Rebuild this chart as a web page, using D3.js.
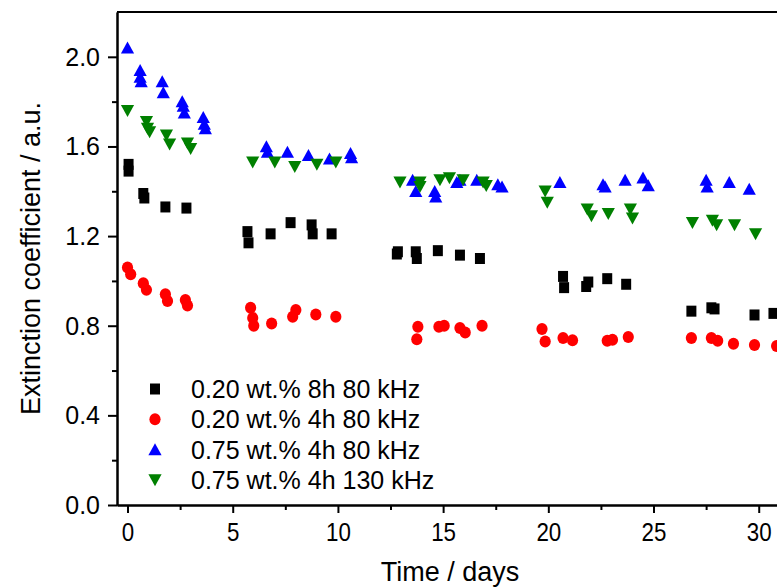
<!DOCTYPE html>
<html>
<head>
<meta charset="utf-8">
<script src="https://cdn.jsdelivr.net/npm/d3@7"></script>
<style>
  body { margin: 0; background: #fff; }
  svg { display: block; font-family: "Liberation Sans", Arial, sans-serif; }
</style>
</head>
<body>
<div id="chart"></div>
<script>
// series (day, extinction coefficient)
const seriesNames = ['0.20 wt.% 8h 80 kHz', '0.20 wt.% 4h 80 kHz', '0.75 wt.% 4h 80 kHz', '0.75 wt.% 4h 130 kHz'];
const seriesColors = ['#000000', '#ff0000', '#0000ff', '#008000'];
const seriesShapes = ['square', 'circle', 'triangleUp', 'triangleDown'];

const blackDays = [0.05, 0.05, 0.75, 0.8, 1.8, 2.8, 5.7, 5.75, 6.8, 7.75, 8.75, 8.8, 9.7, 12.8, 12.85, 13.7, 13.75, 14.75, 15.8, 16.75, 20.7, 20.75, 21.8, 21.9, 22.8, 23.7, 26.8, 27.75, 27.9, 29.8, 30.7];
const blackValues = [1.52, 1.49, 1.39, 1.37, 1.33, 1.325, 1.22, 1.17, 1.21, 1.26, 1.25, 1.21, 1.21, 1.12, 1.13, 1.13, 1.10, 1.135, 1.115, 1.10, 1.02, 0.97, 0.975, 0.995, 1.01, 0.985, 0.865, 0.88, 0.875, 0.848, 0.855];

const redDays = [0, 0.15, 0.75, 0.9, 1.8, 1.9, 2.75, 2.85, 5.85, 5.95, 6.0, 6.85, 7.85, 8.0, 8.95, 9.9, 13.75, 13.8, 14.8, 15.05, 15.8, 16.05, 16.85, 19.7, 19.85, 20.7, 21.15, 22.8, 23.05, 23.8, 26.8, 27.75, 28.05, 28.8, 29.8, 30.85];
const redValues = [1.06, 1.03, 0.99, 0.96, 0.94, 0.91, 0.915, 0.89, 0.88, 0.835, 0.80, 0.81, 0.84, 0.87, 0.85, 0.84, 0.74, 0.795, 0.795, 0.80, 0.79, 0.77, 0.80, 0.785, 0.73, 0.745, 0.735, 0.733, 0.737, 0.75, 0.745, 0.745, 0.733, 0.72, 0.714, 0.71];

const blueDays = [0, 0.6, 0.6, 0.65, 1.65, 1.7, 2.6, 2.65, 2.7, 3.6, 3.65, 3.7, 6.6, 6.65, 7.6, 8.6, 9.6, 10.6, 10.65, 13.55, 13.7, 14.6, 14.65, 15.65, 15.8, 16.6, 17.6, 17.8, 20.55, 22.6, 22.7, 23.65, 24.5, 24.75, 27.5, 27.55, 28.6, 29.55];
const blueValues = [2.04, 1.94, 1.91, 1.89, 1.89, 1.84, 1.80, 1.78, 1.75, 1.73, 1.70, 1.68, 1.60, 1.575, 1.575, 1.56, 1.545, 1.57, 1.55, 1.45, 1.40, 1.40, 1.375, 1.44, 1.45, 1.45, 1.43, 1.42, 1.44, 1.43, 1.42, 1.45, 1.46, 1.425, 1.45, 1.42, 1.44, 1.41];

const greenDays = [0, 0.9, 0.95, 1.05, 1.85, 2.0, 2.85, 3.0, 5.95, 7.0, 7.95, 9.0, 9.9, 12.95, 13.9, 13.9, 14.85, 15.3, 15.95, 16.9, 17.05, 19.85, 19.95, 21.85, 22.05, 22.85, 23.9, 24.0, 26.85, 27.8, 28.0, 28.85, 29.85];
const greenValues = [1.76, 1.71, 1.68, 1.665, 1.65, 1.61, 1.615, 1.59, 1.53, 1.53, 1.51, 1.52, 1.53, 1.44, 1.44, 1.42, 1.45, 1.46, 1.45, 1.44, 1.425, 1.40, 1.35, 1.32, 1.29, 1.30, 1.32, 1.28, 1.26, 1.27, 1.25, 1.25, 1.21];

const xMajorTicks = [0, 5, 10, 15, 20, 25, 30];
const xMinorTicks = [2.5, 7.5, 12.5, 17.5, 22.5, 27.5, 32.5];
const yMajorTicks = [0.0, 0.4, 0.8, 1.2, 1.6, 2.0];
const yMinorTicks = [0.2, 0.6, 1.0, 1.4, 1.8];

const allDays = [blackDays, redDays, blueDays, greenDays];
const allValues = [blackValues, redValues, blueValues, greenValues];

const w = 777;
const h = 587;
const margin = { left: 117, top: 12, bottom: 505 };

const svg = d3.select('#chart')
  .append('svg')
  .attr('width', w)
  .attr('height', h);

// chart is cut off on the right, so the x range runs past the svg edge
const xScale = d3.scaleLinear().domain([-0.5, 32]).range([margin.left, margin.left + 32.5 * 21.04]);
const yScale = d3.scaleLinear().domain([0, 2.2]).range([margin.bottom, margin.top]);

// marker shapes
function shapePath(kind) {
  if (kind === 'square') return 'M-5,-5.5H5V5.5H-5Z';
  if (kind === 'circle') return 'M-5.6,0A5.6,6 0 1,0 5.6,0A5.6,6 0 1,0 -5.6,0Z';
  if (kind === 'triangleUp') return 'M0,-6.3L6.6,5.7L-6.6,5.7Z';
  return 'M0,6.3L6.6,-5.7L-6.6,-5.7Z';
}

// points
allDays.forEach((days, i) => {
  const pts = days.map((d, j) => ({ day: d, value: allValues[i][j] }));
  svg.append('g')
    .selectAll('path')
    .data(pts)
    .enter()
    .append('path')
    .attr('d', shapePath(seriesShapes[i]))
    .attr('transform', d => 'translate(' + xScale(d.day) + ',' + yScale(d.value) + ')')
    .attr('fill', seriesColors[i]);
});

// axes
const xAxis = d3.axisBottom(xScale).tickValues(xMajorTicks).tickSize(8).tickSizeOuter(0).tickFormat(d3.format('d'));
const xMinor = d3.axisBottom(xScale).tickValues(xMinorTicks).tickSize(5).tickSizeOuter(0).tickFormat('');
const yAxis = d3.axisLeft(yScale).tickValues(yMajorTicks).tickSize(9).tickPadding(8).tickSizeOuter(0).tickFormat(d3.format('.1f'));
const yMinor = d3.axisLeft(yScale).tickValues(yMinorTicks).tickSize(5).tickSizeOuter(0).tickFormat('');

const gx = svg.append('g').attr('transform', 'translate(0,' + margin.bottom + ')').call(xAxis);
svg.append('g').attr('transform', 'translate(0,' + margin.bottom + ')').call(xMinor);
gx.selectAll('text')
  .attr('y', 36)
  .attr('dy', 0)
  .attr('font-size', 26)
  .attr('transform', 'scale(0.86,1)')
  .attr('fill', '#000');

const gy = svg.append('g').attr('transform', 'translate(' + margin.left + ',0)').call(yAxis);
svg.append('g').attr('transform', 'translate(' + margin.left + ',0)').call(yMinor);
gy.selectAll('text')
  .attr('font-size', 25)
  .attr('dy', '0.34em')
  .attr('fill', '#000');

svg.selectAll('.domain, .tick line')
  .attr('stroke', '#000')
  .attr('stroke-width', 2);

// top frame line
svg.append('line')
  .attr('x1', margin.left).attr('x2', w + 10)
  .attr('y1', margin.top).attr('y2', margin.top)
  .attr('stroke', '#000')
  .attr('stroke-width', 2);

// axis titles
svg.append('text')
  .attr('x', 450)
  .attr('y', 581)
  .attr('text-anchor', 'middle')
  .attr('font-size', 27)
  .text('Time / days');

svg.append('text')
  .attr('transform', 'translate(40,' + (margin.top + margin.bottom) / 2 + ') rotate(-90)')
  .attr('text-anchor', 'middle')
  .attr('font-size', 27)
  .text('Extinction coefficient / a.u.');

// legend
const legend = svg.append('g');
seriesNames.forEach((name, i) => {
  const row = legend.append('g').attr('transform', 'translate(155,' + (389 + i * 30.3) + ')');
  row.append('path')
    .attr('d', shapePath(seriesShapes[i]))
    .attr('fill', seriesColors[i]);
  row.append('text')
    .attr('x', 36)
    .attr('y', 9)
    .attr('font-size', 25)
    .text(name);
});
</script>
</body>
</html>
